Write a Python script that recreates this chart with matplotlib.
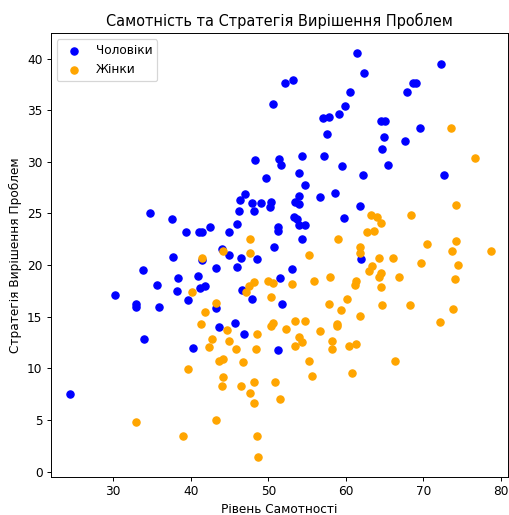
import matplotlib
matplotlib.use("Agg")
import matplotlib.pyplot as plt

# Чоловіки: рівень самотності та стратегія вирішення проблем
men_x = [34.7, 37.6, 39.4, 41.1, 41.4, 42.5, 37.7, 41.5, 33.8, 38.4,
         41.0, 35.6, 41.2, 41.9, 38.3, 30.3, 39.6, 32.9, 33.0, 35.9,
         34.0, 40.3, 24.5, 61.4, 52.1, 53.2, 50.6, 60.5, 59.9, 59.1,
         57.0, 57.8, 57.6, 48.3, 51.4, 51.7, 54.4, 57.2, 59.5, 49.7,
         54.0, 62.3, 72.3, 68.6, 69.0, 67.9, 64.5, 65.0, 69.5, 64.9,
         67.6, 64.7, 65.4, 62.2, 72.7, 54.7, 47.0, 46.4, 47.9, 49.1,
         50.4, 50.2, 54.0, 53.5, 54.0, 56.6, 58.6, 61.8, 46.2, 48.2,
         59.7, 53.3, 53.7, 53.9, 54.7, 46.0, 51.3, 51.2, 44.9, 54.4,
         50.7, 44.0, 44.9, 46.5, 48.5, 46.0, 43.2, 53.1, 51.5, 46.6,
         47.9, 51.8, 43.3, 43.7, 45.7, 46.9, 51.3, 62.0]
men_y = [25.0, 24.5, 23.2, 23.2, 23.2, 23.7, 20.8, 20.5, 19.5, 18.7,
         18.9, 18.1, 17.8, 18.0, 17.5, 17.1, 16.6, 16.2, 15.9, 15.9,
         12.8, 12.0, 7.5, 40.5, 37.6, 37.9, 35.6, 36.8, 35.4, 34.6,
         34.2, 34.3, 32.7, 30.2, 30.3, 29.7, 30.6, 30.6, 29.6, 28.4,
         28.9, 38.6, 39.5, 37.6, 37.6, 36.8, 34.0, 34.0, 33.3, 32.4,
         32.0, 31.2, 29.7, 28.7, 28.7, 27.8, 26.9, 26.3, 26.0, 26.0,
         26.1, 25.6, 26.7, 26.1, 25.9, 26.6, 27.0, 25.7, 25.2, 25.2,
         24.6, 24.7, 24.5, 23.9, 23.9, 24.0, 23.7, 23.3, 23.2, 22.5,
         21.7, 21.6, 21.0, 20.7, 20.6, 19.8, 19.7, 19.6, 18.7, 17.6,
         16.7, 16.2, 15.8, 14.0, 14.4, 13.3, 11.8, 20.6]

# Жінки: рівень самотності та стратегія вирішення проблем
women_x = [41.5, 40.2, 41.9, 41.3, 42.4, 42.8, 39.6, 32.9, 39.0, 73.5,
           76.6, 47.6, 59.0, 44.2, 47.6, 55.3, 48.2, 50.0, 50.6, 53.0,
           55.9, 58.0, 61.3, 61.2, 47.5, 47.1, 50.4, 60.2, 57.8, 59.4,
           43.3, 74.2, 63.2, 64.0, 68.4, 64.5, 62.7, 63.6, 70.4, 74.2,
           73.7, 78.7, 61.8, 61.8, 64.3, 66.1, 69.7, 74.4, 63.4, 63.0,
           64.5, 64.3, 66.8, 74.0, 64.5, 64.7, 68.3, 73.8, 61.8, 72.1,
           44.7, 45.0, 45.9, 48.5, 48.4, 50.6, 50.4, 52.3, 53.5, 54.7,
           54.0, 54.4, 53.4, 56.7, 58.8, 58.9, 58.2, 58.2, 60.4, 61.3,
           43.6, 44.2, 46.8, 55.3, 44.1, 44.0, 46.5, 48.1, 47.6, 48.2,
           50.9, 51.5, 55.6, 60.8, 43.3, 48.6, 48.7, 66.3]
women_y = [20.7, 17.4, 15.5, 14.3, 12.1, 12.8, 9.9, 4.8, 3.4, 33.3,
           30.4, 22.5, 22.5, 21.4, 21.2, 21.0, 18.4, 18.5, 18.3, 18.2,
           18.5, 18.8, 18.5, 18.1, 18.0, 17.4, 16.9, 16.7, 16.2, 15.6,
           16.3, 25.8, 24.8, 24.7, 24.8, 24.1, 23.2, 23.3, 22.0, 22.3,
           21.4, 21.4, 21.7, 21.2, 20.7, 20.7, 20.2, 20.0, 19.9, 19.4,
           19.2, 18.8, 18.8, 18.6, 17.9, 16.1, 16.1, 15.7, 15.1, 14.5,
           13.7, 12.6, 11.9, 13.3, 11.9, 14.4, 14.1, 13.8, 14.6, 14.6,
           13.0, 12.5, 12.2, 13.6, 14.3, 14.1, 12.6, 11.9, 12.2, 12.4,
           10.7, 10.9, 10.6, 10.7, 9.2, 8.3, 8.3, 8.7, 7.6, 6.6,
           8.7, 7.0, 9.3, 9.5, 5.0, 3.4, 1.4, 10.7]

DPI = 87
fig = plt.figure(figsize=(509 / DPI, 515 / DPI), dpi=DPI)
ax = fig.add_axes([0.1002, 0.0744, 0.898, 0.861])

ax.scatter(men_x, men_y, color="blue", label="Чоловіки")
ax.scatter(women_x, women_y, color="orange", label="Жінки")

ax.set_xlim(22.0, 80.9)
ax.set_ylim(-0.5, 42.45)
ax.set_title("Самотність та Стратегія Вирішення Проблем")
ax.set_xlabel("Рівень Самотності")
ax.set_ylabel("Стратегія Вирішення Проблем")
ax.legend(loc="upper left")

fig.savefig("out.png", dpi=DPI)
